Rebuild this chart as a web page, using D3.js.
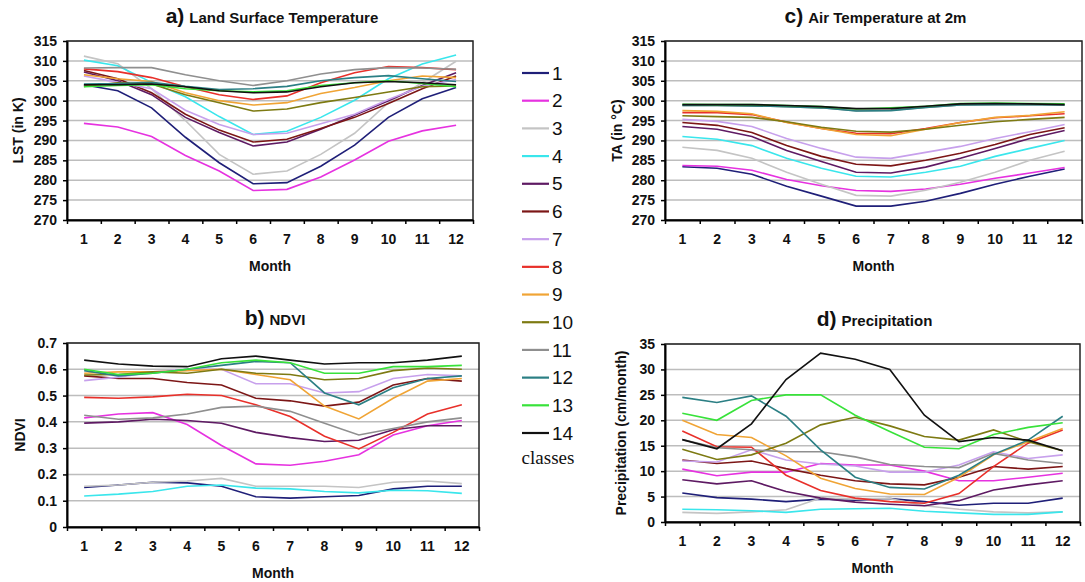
<!DOCTYPE html>
<html>
<head>
<meta charset="utf-8">
<script src="https://cdn.jsdelivr.net/npm/d3@7"></script>
<style>
  body { margin: 0; background: #fff; }
  svg { display: block; font-family: Arial, "Liberation Sans", sans-serif; }
  .grid line { stroke: #bdbdbd; stroke-width: 1.5; }
  .axis path, .axis line { stroke: #000; }
  .axis text { font-size: 14px; font-weight: bold; fill: #111; }
</style>
</head>
<body>
<div id="chart"></div>
<script>
const months = [1,2,3,4,5,6,7,8,9,10,11,12];
const classes = ['1','2','3','4','5','6','7','8','9','10','11','12','13','14'];
const colours = ['#1f1f78','#e632e0','#c4c4c4','#3ae6ec','#5e1a63','#7c1616','#c7a0ec','#e8302a',
                 '#f0a435','#7d7a12','#8f8f8f','#2b7f84','#38e23a','#111111'];

// a) land surface temperature (K), one row per class
const lst = [
  [304, 302.5, 298.2, 290.8, 284.4, 279.1, 279.4, 283.5, 288.8, 295.8, 300.5, 303.3],
  [294.3, 293.4, 291, 286.2, 282.3, 277.4, 277.7, 280.8, 285.1, 289.8, 292.4, 293.8],
  [311.2, 309.3, 303, 295, 286.5, 281.5, 282.3, 286.5, 291.8, 299.5, 304.5, 309.9],
  [310.2, 308.8, 304.6, 301, 296, 291.5, 292.3, 295.8, 300.1, 305.5, 309.2, 311.5],
  [307.2, 305, 301.5, 295.8, 292, 288.6, 289.6, 292.8, 296.3, 300, 303.8, 307],
  [307.6, 305.5, 302, 296.6, 292.6, 289.6, 290.3, 293, 295.8, 299.3, 303, 306.2],
  [306.2, 304.6, 303, 297.6, 294, 291.5, 291.8, 294.2, 296.6, 300.3, 303.6, 305.3],
  [308, 307.3, 305.8, 303.5, 301.5, 300.3, 301.2, 304.5, 307, 308.6, 308.3, 307.8],
  [306.5, 305.5, 304.8, 302, 300, 298.9, 299.5, 301.8, 303.3, 305, 306.2, 305.8],
  [303.6, 304.5, 304.2, 301.5, 299.5, 297.4, 297.9, 299.5, 300.8, 302.2, 303.5, 303.7],
  [308.2, 308.3, 308.3, 306.5, 305, 303.8, 305, 306.7, 307.8, 308.3, 308.2, 307.9],
  [304.2, 304.3, 304.6, 303.6, 302.8, 303, 303.6, 305, 305.8, 306.3, 305.5, 304.8],
  [303.5, 303.8, 304, 303, 302.5, 302.2, 302.5, 303.8, 304.5, 305, 304.3, 303.5],
  [304, 304, 304.2, 303.5, 302.5, 302, 302.2, 303.5, 304.5, 304.8, 304.5, 304]
];

// b) NDVI
const ndvi = [
  [0.15, 0.16, 0.17, 0.168, 0.155, 0.115, 0.11, 0.115, 0.12, 0.145, 0.155, 0.155],
  [0.415, 0.43, 0.435, 0.39, 0.31, 0.24, 0.235, 0.25, 0.275, 0.35, 0.385, 0.405],
  [0.155, 0.16, 0.17, 0.175, 0.185, 0.155, 0.155, 0.155, 0.15, 0.17, 0.175, 0.165],
  [0.118, 0.125, 0.135, 0.155, 0.16, 0.148, 0.145, 0.135, 0.13, 0.14, 0.138, 0.128],
  [0.395, 0.4, 0.41, 0.405, 0.395, 0.36, 0.34, 0.325, 0.33, 0.37, 0.385, 0.385],
  [0.575, 0.565, 0.565, 0.55, 0.54, 0.49, 0.48, 0.46, 0.475, 0.54, 0.565, 0.555],
  [0.557, 0.57, 0.59, 0.6, 0.6, 0.545, 0.545, 0.51, 0.515, 0.565, 0.58, 0.575],
  [0.493, 0.49, 0.495, 0.505, 0.5, 0.465, 0.42, 0.345, 0.297, 0.36, 0.43, 0.465],
  [0.585, 0.59, 0.59, 0.595, 0.6, 0.58, 0.56, 0.46, 0.411, 0.49, 0.555, 0.565],
  [0.578, 0.58, 0.59, 0.585, 0.6, 0.585, 0.58, 0.56, 0.565, 0.595, 0.605, 0.6],
  [0.425, 0.41, 0.415, 0.43, 0.455, 0.46, 0.44, 0.395, 0.35, 0.375, 0.4, 0.415],
  [0.595, 0.575, 0.585, 0.6, 0.615, 0.63, 0.625, 0.51, 0.465, 0.53, 0.565, 0.575],
  [0.6, 0.58, 0.585, 0.6, 0.625, 0.635, 0.625, 0.585, 0.585, 0.61, 0.61, 0.615],
  [0.635, 0.62, 0.612, 0.61, 0.64, 0.65, 0.635, 0.62, 0.625, 0.625, 0.635, 0.65]
];

// c) air temperature at 2m
const ta = [
  [283.4, 283, 281.5, 278.5, 276, 273.5, 273.5, 274.7, 276.7, 279, 281, 282.8],
  [283.7, 283.5, 282.5, 280.2, 278.6, 277.4, 277.2, 277.8, 279, 280.5, 281.8, 283.2],
  [288.3, 287.5, 285.5, 282, 279, 276.2, 276, 277.5, 279.5, 282, 285, 287.3],
  [291, 290.3, 288.7, 285.5, 283, 281, 280.8, 282, 283.5, 286, 288, 290],
  [293.5, 292.8, 291, 287.5, 284.7, 282, 281.8, 283.3, 285.5, 288, 290.5, 292.5],
  [294.5, 293.8, 292, 288.7, 286, 284, 283.6, 285, 286.8, 289, 291.5, 293.2],
  [295.3, 294.8, 293.5, 290.5, 288, 285.8, 285.5, 287, 288.5, 290.5, 292.2, 294],
  [297, 297, 296.5, 294.6, 293, 291.8, 291.7, 293, 294.5, 295.7, 296.2, 296.7],
  [297.5, 297.3, 296.7, 294.5, 293, 291.5, 291.2, 292.8, 294.5, 295.8, 296.3, 297.2],
  [296.2, 296, 295.8, 294.7, 293.3, 292.3, 292.1, 292.8, 293.8, 294.7, 295.3, 295.8],
  [298.8, 298.8, 298.7, 298.5, 298.2, 297.5, 297.6, 298.3, 298.9, 299, 299, 299],
  [298.8, 298.8, 298.7, 298.5, 298.2, 297.4, 297.5, 298.3, 298.9, 299, 299, 298.9],
  [299.1, 299, 299, 298.8, 298.5, 297.9, 298.2, 298.6, 299.3, 299.4, 299.3, 299.2],
  [299, 299, 299, 298.8, 298.5, 298, 298, 298.6, 299.2, 299.3, 299.2, 299]
];

// d) precipitation (cm/month)
const precip = [
  [5.7, 4.8, 4.5, 4, 4.5, 4.3, 4.6, 4, 3.3, 3.7, 3.7, 4.7],
  [10.4, 9.1, 9.8, 9.8, 11.5, 11.2, 11.2, 10, 8.1, 8.1, 8.8, 9.6],
  [1.9, 1.7, 2, 2.4, 4.7, 4.5, 4.6, 3.2, 2.5, 2, 1.8, 2],
  [2.5, 2.4, 2.2, 1.9, 2.5, 2.6, 2.7, 2.1, 1.8, 1.5, 1.5, 2],
  [8.3, 7.5, 8.1, 6, 4.7, 3.9, 3.5, 3.2, 4.2, 6.3, 7.3, 8.1],
  [12.2, 11.5, 12, 10.5, 9.2, 8.1, 7.5, 7.3, 8.8, 10.9, 10.4, 10.9],
  [12, 11.8, 14.2, 12.2, 11.4, 11, 9.8, 9.8, 11.2, 13.8, 12.5, 13.2],
  [17.9, 14.8, 14.7, 9.2, 6.2, 4.7, 4, 3.7, 5.6, 10.9, 15.5, 18.1],
  [20, 17.2, 16.6, 13, 8.6, 6.6, 5.5, 5.4, 8.8, 13.2, 15.8, 18.4],
  [14.3, 12.3, 13.2, 15.5, 19.1, 20.6, 18.9, 16.8, 16.1, 18.1, 15.8, 14],
  [16.2, 14.6, 14.2, 13.8, 13.8, 12.8, 11.3, 10.9, 10.7, 13.5, 12.2, 11.5],
  [24.5, 23.5, 24.8, 20.8, 14.2, 8.8, 6.8, 6.5, 9.2, 13.3, 16.1, 20.8],
  [21.4, 20, 23.9, 25, 25, 21, 17.8, 14.7, 14.4, 17.2, 18.6, 19.5],
  [16.2, 14.4, 19.3, 28, 33.2, 32, 30, 21, 15.8, 16.6, 16.1, 14]
];

const tempTicks = [270,275,280,285,290,295,300,305,310,315];
const ndviTicks = [0,0.1,0.2,0.3,0.4,0.5,0.6,0.7];
const precipTicks = [0,5,10,15,20,25,30,35];

var svg = d3.select('#chart').append('svg')
    .attr('width', 1085)
    .attr('height', 582);

function panel(data, ticks, fmt, box, letter, title, ytitle){
    var x = d3.scaleBand().domain(months).range([box.left, box.right]);
    var edge = d3.scaleLinear().domain([0,12]).range([box.left, box.right]);
    var y = d3.scaleLinear().domain(d3.extent(ticks)).range([box.bottom, box.top]);
    var cx = (box.left + box.right)/2;

    // gridlines
    svg.append('g')
        .attr('class','grid')
        .selectAll('line')
        .data(ticks)
        .enter()
        .append('line')
            .attr('x1', box.left).attr('x2', box.right)
            .attr('y1', d => y(d)).attr('y2', d => y(d));

    var line = d3.line()
        .x((d,i) => x(months[i]) + x.bandwidth()/2)
        .y(d => y(d));

    svg.append('g')
        .selectAll('path')
        .data(data)
        .enter()
        .append('path')
            .attr('d', line)
            .attr('fill','none')
            .attr('stroke', (d,i) => colours[i])
            .attr('stroke-width', 1.6);

    // frame
    svg.append('rect')
        .attr('x', box.left).attr('y', box.top)
        .attr('width', box.right - box.left).attr('height', box.bottom - box.top)
        .attr('fill','none')
        .attr('stroke','#222')
        .attr('stroke-width',1.5);

    svg.append('g')
        .attr('class','axis')
        .attr('transform',`translate(0,${box.bottom})`)
        .call(d3.axisBottom(edge).ticks(12).tickSize(4).tickSizeOuter(0).tickFormat(''))
        .call(g => g.select('.domain').attr('stroke-width',2))
        .call(g => g.selectAll('line').attr('stroke-width',1.5));

    svg.append('g')
        .attr('class','axis')
        .attr('transform',`translate(0,${box.bottom})`)
        .call(d3.axisBottom(x).tickSize(0).tickPadding(14))
        .call(g => g.select('.domain').remove());

    svg.append('g')
        .attr('class','axis')
        .attr('transform',`translate(${box.left},0)`)
        .call(d3.axisLeft(y).tickValues(ticks).tickFormat(fmt).tickSize(4).tickSizeOuter(0).tickPadding(6))
        .call(g => g.select('.domain').attr('stroke-width',2))
        .call(g => g.selectAll('line').attr('stroke-width',1.5));

    var t = svg.append('text')
        .attr('x', cx + 2)
        .attr('y', box.top - 18)
        .attr('text-anchor','middle')
        .attr('font-weight','bold')
        .attr('fill','#111');
    t.append('tspan').attr('font-size',21).text(letter + ')');
    t.append('tspan').attr('font-size',15).attr('dx',5).text(title);

    svg.append('text')
        .attr('x', cx)
        .attr('y', box.bottom + 51)
        .attr('text-anchor','middle')
        .attr('font-weight','bold')
        .attr('font-size',14)
        .attr('fill','#111')
        .text('Month');

    svg.append('text')
        .attr('transform',`translate(${box.ytx},${(box.top + box.bottom)/2}) rotate(-90)`)
        .attr('text-anchor','middle')
        .attr('font-weight','bold')
        .attr('font-size',14)
        .attr('fill','#111')
        .text(ytitle);
}

panel(lst, tempTicks, d3.format('d'), {left:67, right:473, top:41, bottom:220, ytx:23}, 'a', 'Land Surface Temperature', 'LST (in K)');
panel(ndvi, ndviTicks, d => d === 0 ? '0' : d3.format('.1f')(d), {left:67, right:479, top:343, bottom:527, ytx:25}, 'b', 'NDVI', 'NDVI');
panel(ta, tempTicks, d3.format('d'), {left:665, right:1082, top:41, bottom:220, ytx:622}, 'c', 'Air Temperature at 2m', 'TA (in °C)');
panel(precip, precipTicks, d3.format('d'), {left:665, right:1080, top:344, bottom:522, ytx:626}, 'd', 'Precipitation', 'Precipitation (cm/month)');

// legend
var legY = d3.scalePoint().domain(classes).range([73, 433]);
var leg = svg.append('g')
    .selectAll('g')
    .data(classes)
    .enter()
    .append('g')
        .attr('transform', d => `translate(0,${legY(d)})`);
leg.append('line')
    .attr('x1',522).attr('x2',549)
    .attr('stroke', (d,i) => colours[i])
    .attr('stroke-width',2.2);
leg.append('text')
    .attr('x',552)
    .attr('dy','0.35em')
    .attr('font-size',19)
    .attr('fill','#111')
    .text(d => d);

svg.append('text')
    .attr('x',548)
    .attr('y',464)
    .attr('text-anchor','middle')
    .attr('font-family','"Liberation Serif", "Times New Roman", serif')
    .attr('font-size',19)
    .attr('fill','#111')
    .text('classes');
</script>
</body>
</html>
